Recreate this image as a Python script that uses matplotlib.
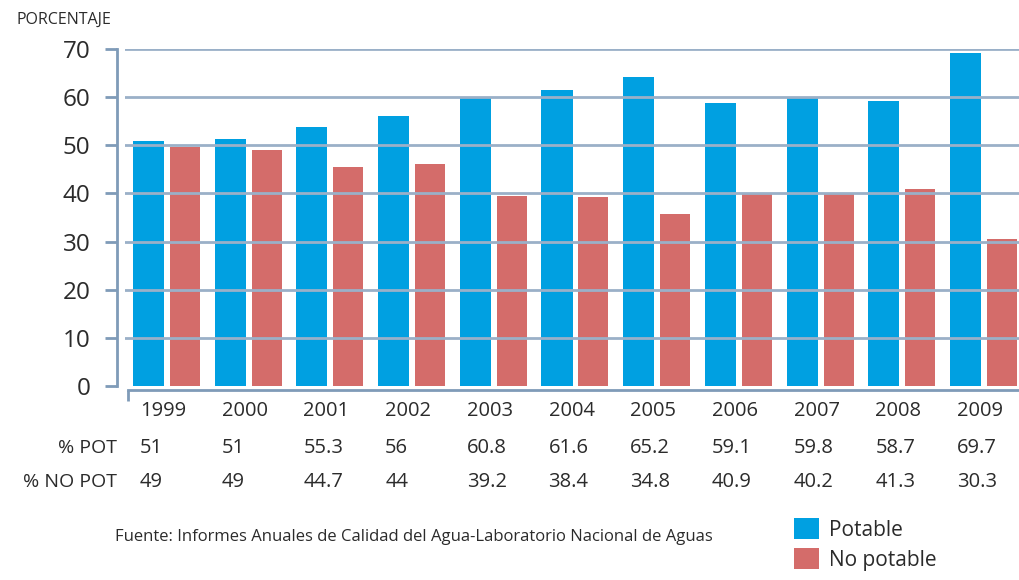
import matplotlib
matplotlib.use("Agg")
import matplotlib.pyplot as plt
from matplotlib.patches import Patch
import matplotlib.transforms as mtransforms

plt.rcParams['font.family'] = ['Liberation Sans Narrow', 'Open Sans', 'DejaVu Sans']

# datos
years = ['1999', '2000', '2001', '2002', '2003', '2004', '2005', '2006', '2007', '2008', '2009']
# alturas de las barras tal como aparecen dibujadas
bar_pot = [50.8, 51.3, 53.9, 56.1, 60.0, 61.5, 64.1, 58.7, 60.0, 59.3, 69.1]
bar_nopot = [49.6, 49.1, 45.4, 46.1, 39.4, 39.2, 35.7, 40.1, 40.1, 40.9, 30.6]
# tabla bajo el grafico
pct_pot = ['51', '51', '55.3', '56', '60.8', '61.6', '65.2', '59.1', '59.8', '58.7', '69.7']
pct_nopot = ['49', '49', '44.7', '44', '39.2', '38.4', '34.8', '40.9', '40.2', '41.3', '30.3']
yticks = [0, 10, 20, 30, 40, 50, 60, 70]

BLUE = '#00a0e1'
RED = '#d46c6a'
GRID = '#9ab0c8'
AXIS = '#7f9bb8'
TXT = '#2b2b2b'

W, H = 1020, 580
fig = plt.figure(figsize=(W / 100, H / 100), dpi=100)
ax = fig.add_axes([125 / W, 1 - 386 / H, 895 / W, 337 / H])

x = list(range(len(years)))
ax.bar([i - 0.223 for i in x], bar_pot, width=0.38, color=BLUE, zorder=1)
ax.bar([i + 0.223 for i in x], bar_nopot, width=0.367, color=RED, zorder=1)

# lineas de la grilla (por encima de las barras)
for v in yticks[1:]:
    ax.axhline(v, color=GRID, lw=2.0, zorder=3)

xmin, xmax = -0.511, 10.444
ax.set_xlim(xmin, xmax)
ax.set_ylim(0, 70)

for s in ['top', 'right']:
    ax.spines[s].set_visible(False)
ax.spines['left'].set_position(('outward', 6))
ax.spines['left'].set_color(AXIS)
ax.spines['left'].set_linewidth(2)
ax.spines['left'].set_bounds(0, 70)
ax.spines['bottom'].set_position(('outward', 3))
ax.spines['bottom'].set_color(AXIS)
ax.spines['bottom'].set_linewidth(2)
ax.spines['bottom'].set_bounds(xmin + 3 / 81.7, xmax)

ax.set_yticks(yticks)
ax.set_yticklabels([str(t) for t in yticks], fontsize=17.5, color=TXT)
ax.tick_params(axis='y', length=9, width=2, color=AXIS, pad=10)
ax.set_xticks([xmin + 3 / 81.7])
ax.set_xticklabels([''])
ax.tick_params(axis='x', length=8, width=2, color=AXIS)

# filas de texto bajo el eje
tr = mtransforms.blended_transform_factory(ax.transData, fig.transFigure)
for i in x:
    ax.text(i - 0.327, 1 - 411 / H, years[i], transform=tr, ha='left', va='center',
            fontsize=14.5, color=TXT)
    ax.text(i - 0.327, 1 - 448 / H, pct_pot[i], transform=tr, ha='left', va='center',
            fontsize=14.5, color=TXT)
    ax.text(i - 0.327, 1 - 482 / H, pct_nopot[i], transform=tr, ha='left', va='center',
            fontsize=14.5, color=TXT)

fig.text(117 / W, 1 - 448 / H, '% POT', ha='right', va='center', fontsize=14, color=TXT)
fig.text(117 / W, 1 - 482 / H, '% NO POT', ha='right', va='center', fontsize=14, color=TXT)
fig.text(17 / W, 1 - 20 / H, 'PORCENTAJE', ha='left', va='center', fontsize=11.5, color=TXT)
fig.text(115 / W, 1 - 537 / H,
         'Fuente: Informes Anuales de Calidad del Agua-Laboratorio Nacional de Aguas',
         ha='left', va='center', fontsize=12, color=TXT)

handles = [Patch(facecolor=BLUE, label='Potable'), Patch(facecolor=RED, label='No potable')]
fig.legend(handles=handles, loc='upper left', bbox_to_anchor=(794 / W, 1 - 518 / H),
           frameon=False, fontsize=15, handlelength=1.2, handleheight=1.2,
           handletextpad=0.5, labelspacing=0.35, borderpad=0, borderaxespad=0,
           labelcolor=TXT)

fig.savefig('out.png', dpi=100)
